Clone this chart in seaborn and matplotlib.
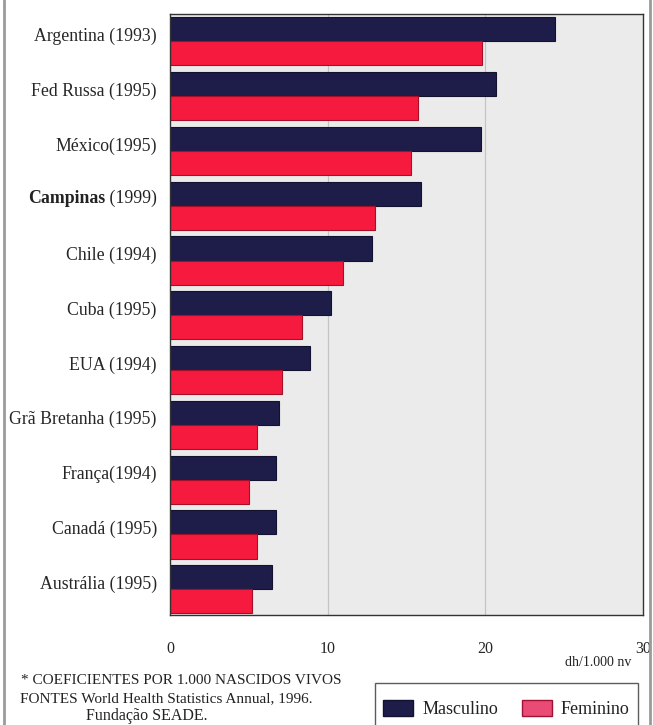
import numpy as np
import pandas as pd
import matplotlib
matplotlib.use("Agg")
import matplotlib.pyplot as plt
from matplotlib.patches import Patch
from matplotlib.lines import Line2D
import matplotlib.transforms as mtransforms
import seaborn as sns

# Infant mortality coefficients (per 1,000 live births), by sex
paises = ["Argentina (1993)", "Fed Russa (1995)", "México(1995)", "Campinas (1999)",
          "Chile (1994)", "Cuba (1995)", "EUA (1994)", "Grã Bretanha (1995)",
          "França(1994)", "Canadá (1995)", "Austrália (1995)"]
masculino = [24.4, 20.7, 19.7, 15.9, 12.8, 10.2, 8.9, 6.9, 6.7, 6.7, 6.5]
feminino = [19.8, 15.7, 15.3, 13.0, 11.0, 8.4, 7.1, 5.5, 5.0, 5.5, 5.2]
sexos = ["Masculino", "Feminino"]
xticks = [0, 10, 20, 30]

df = pd.DataFrame({
    "pais": paises * 2,
    "valor": masculino + feminino,
    "sexo": [sexos[0]] * len(paises) + [sexos[1]] * len(paises),
})

sns.set_theme(style="white")
plt.rcParams["font.family"] = ["Liberation Serif", "DejaVu Serif"]
plt.rcParams["text.color"] = "#222222"

NAVY = "#1e1d4a"
RED = "#f61a3e"
cores = {"Masculino": NAVY, "Feminino": RED}
LBL = 12.8

fig = plt.figure(figsize=(6.53, 7.25), dpi=100)
ax = fig.add_axes([170 / 653, 1 - 615 / 725, (643 - 170) / 653, (615 - 14) / 725])

sns.barplot(data=df, y="pais", x="valor", hue="sexo", order=paises,
            hue_order=sexos, palette=cores, orient="h", width=0.88,
            dodge=True, saturation=1, legend=False, ax=ax)

# darker outlines on the bars
n = len(paises)
for i, bar in enumerate(ax.patches):
    if i < n:
        bar.set_edgecolor("#121130")
    else:
        bar.set_edgecolor("#a50f28")
    bar.set_linewidth(0.8)

ax.set_facecolor("#ebebeb")
ax.set_xlim(0, 30)
ax.set_ylim(10.47, -0.5)
ax.set_xticks(xticks)
ax.set_xticklabels([str(t) for t in xticks], fontsize=11.5)
for x in (10, 20):
    ax.axvline(x, color="#c4c4c4", lw=0.9, zorder=0)
ax.set_xlabel("")
ax.set_ylabel("")

# category labels, Campinas highlighted in bold
ylabels = [p if not p.startswith("Campinas") else "" for p in paises]
ax.set_yticks(np.arange(n) - 0.13)
ax.set_yticklabels(ylabels, fontsize=LBL)
ax.tick_params(axis="y", length=0, pad=9.5)
ax.tick_params(axis="x", length=0, pad=19)

idx = paises.index("Campinas (1999)")
off = mtransforms.offset_copy(ax.get_yaxis_transform(), fig=fig, x=-13, y=0, units="dots")
anos = ax.text(0, idx - 0.13, " (1999)", transform=off, ha="right", va="center",
               fontsize=LBL)
ax.annotate("Campinas", xy=(0, 0), xycoords=anos, ha="right", va="bottom",
            fontsize=LBL, fontweight="bold")

for s in ax.spines.values():
    s.set_color("#333333")
    s.set_linewidth(1.0)

fig.text(598 / 653, 1 - 663 / 725, "dh/1.000 nv", ha="center", va="center", fontsize=10)

# sources
fig.text(21 / 653, 1 - 681 / 725, "* COEFICIENTES POR 1.000 NASCIDOS VIVOS",
         ha="left", va="center", fontsize=11.0)
fig.text(20 / 653, 1 - 699 / 725, "FONTES World Health Statistics Annual, 1996.",
         ha="left", va="center", fontsize=11.0)
fig.text(147 / 653, 1 - 716 / 725, "Fundação SEADE.", ha="center", va="center",
         fontsize=11.5)

handles = [Patch(facecolor=NAVY, edgecolor="#121130", label="Masculino"),
           Patch(facecolor="#ea4a76", edgecolor="#a01030", label="Feminino")]
leg = fig.legend(handles=handles, loc="upper left", ncol=2,
                 bbox_to_anchor=(375 / 653, 1 - 683 / 725),
                 fontsize=13, frameon=True, fancybox=False, borderpad=0.45,
                 handlelength=1.67, handleheight=0.95, handletextpad=0.5,
                 columnspacing=1.3, labelspacing=0.0, borderaxespad=0,
                 title=" ", title_fontsize=7.5)
leg.get_frame().set_edgecolor("#333333")
leg.get_frame().set_linewidth(1.0)

# page frame
for xf in (4 / 653, 650 / 653):
    fig.add_artist(Line2D([xf, xf], [0, 1], transform=fig.transFigure,
                          color="#9a9a9a", lw=2))

fig.savefig("out.png", dpi=100, facecolor="white")
